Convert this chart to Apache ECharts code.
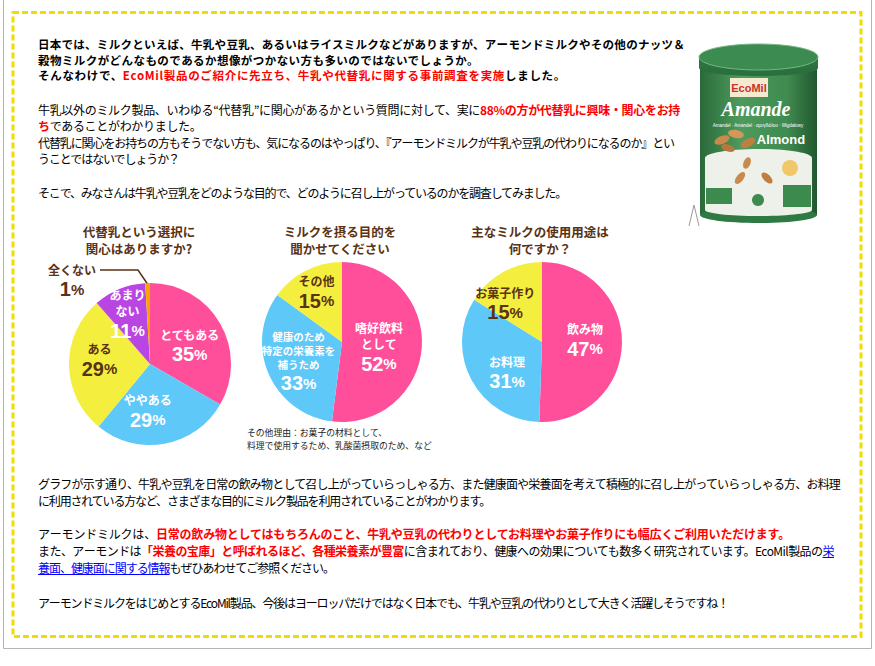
<!DOCTYPE html>
<html><head><meta charset="utf-8">
<script src="https://cdn.jsdelivr.net/npm/echarts@6/dist/echarts.min.js"></script>
<style>
html,body{margin:0;padding:0;background:#fff;}
#page{position:relative;width:875px;height:666px;overflow:hidden;}
#chart{position:absolute;left:0;top:0;width:875px;height:666px;z-index:1;}
.p{position:absolute;left:38px;font-family:"Noto Sans CJK JP","Noto Sans",sans-serif;font-size:12px;color:#000;white-space:nowrap;z-index:2;}
.p .ln{display:block;}
.p .ln .t{display:inline-block;}
.b{font-weight:bold;}
.r{color:#ff0000;font-weight:bold;}
a{color:#0000ff;text-decoration:underline;}
</style></head>
<body>
<div id="page">
<div id="chart"></div>

<div class="p b" style="top:37.3px;line-height:15.5px;font-size:11.5px;">
<div class="ln" data-w="647"><span class="t">日本では、ミルクといえば、牛乳や豆乳、あるいはライスミルクなどがありますが、アーモンドミルクやその他のナッツ＆</span></div>
<div class="ln" data-w="441"><span class="t">穀物ミルクがどんなものであるか想像がつかない方も多いのではないでしょうか。</span></div>
<div class="ln" data-w="528"><span class="t">そんなわけで、<span class="r">EcoMil製品のご紹介に先立ち、牛乳や代替乳に関する事前調査を実施</span>しました。</span></div>
</div>

<div class="p" style="top:102px;line-height:16.3px;">
<div class="ln" data-w="642"><span class="t">牛乳以外のミルク製品、いわゆる“代替乳”に関心があるかという質問に対して、実に<span class="r">88%の方が代替乳に興味・関心をお持</span></span></div>
<div class="ln"><span class="t"><span class="r">ち</span>であることがわかりました。</span></div>
<div class="ln" data-w="636"><span class="t">代替乳に関心をお持ちの方もそうでない方も、気になるのはやっぱり、『アーモンドミルクが牛乳や豆乳の代わりになるのか』とい</span></div>
<div class="ln"><span class="t">うことではないでしょうか？</span></div>
</div>

<div class="p" style="top:185px;line-height:16px;">
<div class="ln" data-w="528"><span class="t">そこで、みなさんは牛乳や豆乳をどのような目的で、どのように召し上がっているのかを調査してみました。</span></div>
</div>

<div class="p" style="top:476px;line-height:16.5px;">
<div class="ln" data-w="802"><span class="t">グラフが示す通り、牛乳や豆乳を日常の飲み物として召し上がっていらっしゃる方、また健康面や栄養面を考えて積極的に召し上がっていらっしゃる方、お料理</span></div>
<div class="ln" data-w="452"><span class="t">に利用されている方など、さまざまな目的にミルク製品を利用されていることがわかります。</span></div>
</div>

<div class="p" style="top:525px;line-height:17px;">
<div class="ln" data-w="752"><span class="t">アーモンドミルクは、<span class="r">日常の飲み物としてはもちろんのこと、牛乳や豆乳の代わりとしてお料理やお菓子作りにも幅広くご利用いただけます。</span></span></div>
<div class="ln" data-w="796"><span class="t">また、アーモンドは<span class="r">「栄養の宝庫」と呼ばれるほど、各種栄養素が豊富</span>に含まれており、健康への効果についても数多く研究されています。EcoMil製品の<a href="#">栄</a></span></div>
<div class="ln" data-w="296"><span class="t"><a href="#">養面、健康面に関する情報</a>もぜひあわせてご参照ください。</span></div>
</div>

<div class="p" style="top:595px;line-height:16px;">
<div class="ln" data-w="690"><span class="t">アーモンドミルクをはじめとするEcoMil製品、今後はヨーロッパだけではなく日本でも、牛乳や豆乳の代わりとして大きく活躍しそうですね！</span></div>
</div>
</div>

<script>
// ---------- data ----------
const pieTitles = ['代替乳という選択に\n関心はありますか?', 'ミルクを摂る目的を\n聞かせてください', '主なミルクの使用用途は\n何ですか？'];
const pie1Categories = ['とてもある', 'ややある', 'ある', 'あまり\nない', '全くない'];
const pie1Values = [35, 29, 29, 11, 1];
const pie2Categories = ['嗜好飲料\nとして', '健康のため\n特定の栄養素を\n補うため', 'その他'];
const pie2Values = [52, 33, 15];
const pie3Categories = ['飲み物', 'お料理', 'お菓子作り'];
const pie3Values = [47, 31, 15];
const footnoteText = 'その他理由：お菓子の材料として、\n料理で使用するため、乳酸菌摂取のため、など';

// ---------- style ----------
const FONT = '"Noto Sans CJK JP", "Noto Sans", sans-serif';
const BROWN = '#5a3214';
const PINK = '#ff4f9b', BLUE = '#5ec8f8', YELLOW = '#f4ef3e', PURPLE = '#b946e2', ORANGE = '#f6a400';
const sliceColors = [[PINK, BLUE, YELLOW, PURPLE, ORANGE], [PINK, BLUE, YELLOW], [PINK, BLUE, YELLOW]];
const labelColors = [['#fff', '#fff', BROWN, '#fff', BROWN], ['#fff', '#fff', BROWN], ['#fff', '#fff', BROWN]];
const pieCenters = [[150, 364], [342, 342], [542, 342]];
const pieRadii = [81, 80, 80];
const titleX = [139, 340, 540];
const labelNudge = [
  [[2, 4], [-10, 5], [-7, -4], [-6, -9], null],
  [[-6, 3], [-4, 3], [-6, -11]],
  [[0, -2], [3, 11], [-16, 0]]
];
const smallLabel = { '1-1': true };

function richFor(c) {
  return {
    n: { fontSize: 12, fontWeight: 'bold', lineHeight: 16, color: c, fontFamily: FONT },
    s: { fontSize: 10.5, fontWeight: 'bold', lineHeight: 14, color: c, fontFamily: FONT },
    v: { fontSize: 20, fontWeight: 'bold', lineHeight: 24, color: c, fontFamily: 'Liberation Sans, Arial, sans-serif' },
    p: { fontSize: 15, fontWeight: 'bold', lineHeight: 24, color: c, fontFamily: 'Liberation Sans, Arial, sans-serif' }
  };
}

function makePie(si, cats, vals) {
  const data = cats.map((name, i) => {
    const item = {
      name: name, value: vals[i],
      itemStyle: { color: sliceColors[si][i] },
      label: { color: labelColors[si][i], rich: richFor(labelColors[si][i]) }
    };
    if (!labelNudge[si][i]) {
      item.label.position = 'outside';
      item.labelLine = { show: true, lineStyle: { color: BROWN, width: 1.5 } };
    }
    return item;
  });
  return {
    type: 'pie',
    center: pieCenters[si],
    radius: pieRadii[si],
    startAngle: 90,
    clockwise: true,
    avoidLabelOverlap: false,
    silent: true,
    itemStyle: { borderWidth: 0 },
    label: {
      show: true, position: 'inside',
      formatter: function (p) {
        const st = smallLabel[si + '-' + p.dataIndex] ? 's' : 'n';
        return p.name.split('\n').map(s => '{' + st + '|' + s + '}').join('\n') + '\n{v|' + p.value + '}{p|%}';
      }
    },
    labelLine: { show: false },
    labelLayout: function (params) {
      const n = labelNudge[si][params.dataIndex];
      if (n) return { dx: n[0], dy: n[1] };
      return { x: 72, y: 281, align: 'center', verticalAlign: 'middle',
               labelLinePoints: [[147.5, 284], [138, 270], [100, 270]] };
    },
    data: data
  };
}

function ell(cx, cy, rx, ry, fill, rot, extra) {
  return Object.assign({ type: 'ellipse', x: cx, y: cy, rotation: rot || 0, shape: { cx: 0, cy: 0, rx: rx, ry: ry }, style: { fill: fill } }, extra || {});
}

const canGraphic = {
  type: 'group', silent: true,
  children: [
    { type: 'rect', shape: { x: 700, y: 57, width: 117, height: 158 },
      style: { fill: { type: 'linear', x: 0, y: 0, x2: 1, y2: 0, colorStops: [
        { offset: 0, color: '#2a6a3a' }, { offset: 0.35, color: '#4e9b5d' }, { offset: 0.75, color: '#3f8a4f' }, { offset: 1, color: '#215730' }] } } },
    ell(758.5, 215, 58.5, 8, '#2f7a43'),
    { type: 'rect', shape: { x: 705, y: 158, width: 107, height: 52 }, style: { fill: '#eef1ea' } },
    ell(758.5, 158, 53.5, 9, '#eef1ea'),
    ell(758.5, 210, 53.5, 6, '#eef1ea'),
    ell(758.5, 68, 59.5, 8, '#2a703e'),
    { type: 'rect', shape: { x: 699, y: 57, width: 119, height: 11 }, style: { fill: '#2c7340' } },
    ell(758.5, 57, 59.5, 13, '#3c8b50', 0, { style: { fill: '#3c8b50', stroke: '#76b884', lineWidth: 1 } }),
    { type: 'rect', shape: { x: 730, y: 78, width: 38, height: 19 }, style: { fill: '#f3ead0' } },
    { type: 'text', x: 749, y: 88, style: { text: 'EcoMil', fill: '#c8322a', fontSize: 11, fontWeight: 'bold', fontFamily: 'Liberation Sans', align: 'center', verticalAlign: 'middle' } },
    { type: 'text', x: 756, y: 109, style: { text: 'Amande', fill: '#ffffff', fontSize: 20, fontWeight: 'bold', fontStyle: 'italic', fontFamily: 'Liberation Serif', align: 'center', verticalAlign: 'middle' } },
    { type: 'text', x: 758, y: 125, style: { text: 'Amandel · Amandel · αμυγδάλου · Migdałowy', fill: '#ffffff', fontSize: 4.5, fontFamily: 'Liberation Sans', align: 'center', verticalAlign: 'middle' } },
    ell(722, 140, 8, 4, '#c98a4b', 0.4),
    ell(736, 134, 8, 4, '#d4975a', -0.2),
    ell(748, 143, 8, 4, '#c07f42', 0.5),
    ell(728, 148, 7, 3.5, '#b8783d', -0.3),
    { type: 'text', x: 781, y: 139, style: { text: 'Almond', fill: '#ffffff', fontSize: 13, fontWeight: 'bold', fontFamily: 'Liberation Sans', align: 'center', verticalAlign: 'middle' } },
    ell(747, 163, 6, 3.5, '#c98a4b', 1.2),
    ell(740, 178, 7, 3.5, '#c98a4b', 0.9),
    ell(767, 178, 7, 3.5, '#c07f42', -0.8),
    { type: 'circle', shape: { cx: 790, cy: 168, r: 8 }, style: { fill: '#f1c76a' } },
    { type: 'rect', shape: { x: 706, y: 188, width: 26, height: 16 }, style: { fill: '#3d8a4e' } },
    { type: 'circle', shape: { cx: 758, cy: 200, r: 6 }, style: { fill: '#3d8a4e' } },
    { type: 'rect', shape: { x: 783, y: 185, width: 28, height: 22 }, style: { fill: '#3d8a4e' } },
    { type: 'polyline', shape: { points: [[689, 226], [694, 205], [699, 226]] }, style: { stroke: '#9a9a9a', lineWidth: 1, fill: 'none' } }
  ]
};

const graphics = [
  { type: 'rect', silent: true, shape: { x: 3.5, y: -5, width: 868, height: 653.5 }, style: { fill: 'none', stroke: '#b4b4b4', lineWidth: 1 } },
  { type: 'rect', silent: true, shape: { x: 13, y: 12.5, width: 848, height: 624 }, style: { fill: 'none', stroke: '#f0dc00', lineWidth: 3, lineDash: [6, 3] } },
  canGraphic
];
pieTitles.forEach((t, i) => graphics.push({
  type: 'text', silent: true, x: titleX[i], y: 240,
  style: { text: t, fill: BROWN, fontSize: 12.5, fontWeight: 'bold', fontFamily: FONT, lineHeight: 17.5, align: 'center', verticalAlign: 'middle' }
}));
graphics.push({
  type: 'text', silent: true, x: 247, y: 438.5,
  style: { text: footnoteText, fill: '#222', fontSize: 8.8, fontFamily: FONT, lineHeight: 13, align: 'left', verticalAlign: 'middle' }
});

const chart = echarts.init(document.getElementById('chart'), null, { renderer: 'svg', width: 875, height: 666 });
chart.setOption({
  animation: false,
  textStyle: { fontFamily: FONT },
  graphic: graphics,
  series: [makePie(0, pie1Categories, pie1Values), makePie(1, pie2Categories, pie2Values), makePie(2, pie3Categories, pie3Values)]
});

function fitLines() {
  document.querySelectorAll('.p').forEach(p => {
    let ls = 0;
    p.querySelectorAll('.ln').forEach(ln => {
      const t = ln.querySelector('.t');
      const w = parseFloat(ln.dataset.w);
      t.style.letterSpacing = '0px';
      if (!isNaN(w)) {
        const nat = t.getBoundingClientRect().width;
        const n = t.textContent.length;
        ls = (w - nat) / n;
      }
      t.style.letterSpacing = ls + 'px';
    });
  });
}
fitLines();
if (document.fonts && document.fonts.ready) document.fonts.ready.then(fitLines);
</script>
</body></html>
